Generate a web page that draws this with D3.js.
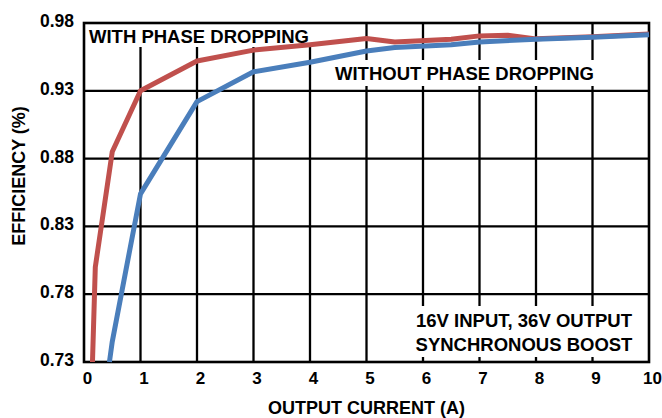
<!DOCTYPE html>
<html>
<head>
<meta charset="utf-8">
<script src="https://cdn.jsdelivr.net/npm/d3@7"></script>
<style>
  body { margin: 0; background: #fff; }
  text { font-family: "Liberation Sans", Arial, sans-serif; font-weight: bold; fill: #000; }
</style>
</head>
<body>
<script>
// Data
var currentWith = [0.15, 0.2, 0.5, 1, 2, 3, 4, 5, 5.5, 6.5, 7, 7.5, 8, 9, 10];
var effWith = [0.73, 0.80, 0.885, 0.93, 0.952, 0.96, 0.964, 0.9685, 0.966, 0.968, 0.9705, 0.971, 0.9683, 0.9698, 0.9718];

var currentWithout = [0.45, 0.5, 1, 2, 3, 4, 5, 5.5, 6.5, 7, 8, 9, 10];
var effWithout = [0.73, 0.745, 0.854, 0.922, 0.944, 0.951, 0.9594, 0.962, 0.964, 0.966, 0.968, 0.9695, 0.9714];

var xTicks = [0, 1, 2, 3, 4, 5, 6, 7, 8, 9, 10];
var yTicks = [0.73, 0.78, 0.83, 0.88, 0.93, 0.98];

// SVG area
var svgWidth = 662;
var svgHeight = 418;

var chartMargin = { top: 23, right: 13, bottom: 56, left: 84 };
var width = svgWidth - chartMargin.left - chartMargin.right;
var height = svgHeight - chartMargin.top - chartMargin.bottom;

var svg = d3.select("body")
  .append("svg")
  .attr("width", svgWidth)
  .attr("height", svgHeight);

var chartGroup = svg.append("g")
  .attr("transform", `translate(${chartMargin.left}, ${chartMargin.top})`);

var xScale = d3.scaleLinear().domain([0, 10]).range([0, width]);
var yScale = d3.scaleLinear().domain([0.73, 0.98]).range([height, 0]);

// grid lines
chartGroup.append("g")
  .selectAll("line.vgrid")
  .data(xTicks.slice(1, -1))
  .enter()
  .append("line")
  .attr("x1", d => xScale(d))
  .attr("x2", d => xScale(d))
  .attr("y1", 0)
  .attr("y2", height)
  .attr("stroke", "#000")
  .attr("stroke-width", 2.3);

chartGroup.append("g")
  .selectAll("line.hgrid")
  .data(yTicks.slice(1, -1))
  .enter()
  .append("line")
  .attr("x1", 0)
  .attr("x2", width)
  .attr("y1", d => yScale(d))
  .attr("y2", d => yScale(d))
  .attr("stroke", "#000")
  .attr("stroke-width", 2.3);

// axes (labels only, frame drawn separately)
var bottomAxis = d3.axisBottom(xScale).tickValues(xTicks).tickSize(0).tickPadding(10).tickFormat(d3.format("d"));
var leftAxis = d3.axisLeft(yScale).tickValues(yTicks).tickSize(0).tickPadding(10).tickFormat(d3.format(".2f"));

var xAxisG = chartGroup.append("g")
  .attr("transform", `translate(0, ${height})`)
  .call(bottomAxis);
xAxisG.select(".domain").remove();
xAxisG.selectAll("text")
  .style("font-size", "17px")
  .style("font-family", "Liberation Sans, Arial, sans-serif")
  .style("font-weight", "bold")
  .attr("dx", 3)
  .attr("fill", "#000");

var yAxisG = chartGroup.append("g").call(leftAxis);
yAxisG.select(".domain").remove();
yAxisG.selectAll("text")
  .style("font-size", "17.5px")
  .style("font-family", "Liberation Sans, Arial, sans-serif")
  .style("font-weight", "bold")
  .attr("dy", "0.2em")
  .attr("fill", "#000");

// annotation labels with white boxes
function label(lines, x, y, anchor, box) {
  chartGroup.append("rect")
    .attr("x", box[0]).attr("y", box[1])
    .attr("width", box[2]).attr("height", box[3])
    .attr("fill", "#fff");
  lines.forEach(function(t, i) {
    chartGroup.append("text")
      .attr("x", x)
      .attr("y", y + i * 24)
      .attr("text-anchor", anchor)
      .style("font-size", "18.5px")
      .text(t);
  });
}

label(["WITH PHASE DROPPING"], 5, 20, "start", [2, 0, 226, 24]);
label(["WITHOUT PHASE DROPPING"], 251, 57, "start", [246, 37, 272, 26]);
label(["16V INPUT, 36V OUTPUT", "SYNCHRONOUS BOOST"], 440, 304, "middle", [326, 283, 230, 51]);

// frame
chartGroup.append("rect")
  .attr("width", width)
  .attr("height", height)
  .attr("fill", "none")
  .attr("stroke", "#000")
  .attr("stroke-width", 2.6);

// efficiency curves
var line = d3.line()
  .x(d => xScale(d[0]))
  .y(d => yScale(d[1]));

var withData = currentWith.map((c, i) => [c, effWith[i]]);
var withoutData = currentWithout.map((c, i) => [c, effWithout[i]]);

chartGroup.append("path")
  .datum(withData)
  .attr("d", line)
  .attr("fill", "none")
  .attr("stroke", "#c0504d")
  .attr("stroke-width", 5)
  .attr("stroke-linejoin", "round");

chartGroup.append("path")
  .datum(withoutData)
  .attr("d", line)
  .attr("fill", "none")
  .attr("stroke", "#4a7ebb")
  .attr("stroke-width", 5)
  .attr("stroke-linejoin", "round");

// axis titles
svg.append("text")
  .attr("x", chartMargin.left + width / 2)
  .attr("y", 414)
  .attr("text-anchor", "middle")
  .style("font-size", "18px")
  .text("OUTPUT CURRENT (A)");

svg.append("text")
  .attr("transform", "translate(25, 176) rotate(-90)")
  .attr("text-anchor", "middle")
  .style("font-size", "18px")
  .text("EFFICIENCY (%)");
</script>
</body>
</html>
